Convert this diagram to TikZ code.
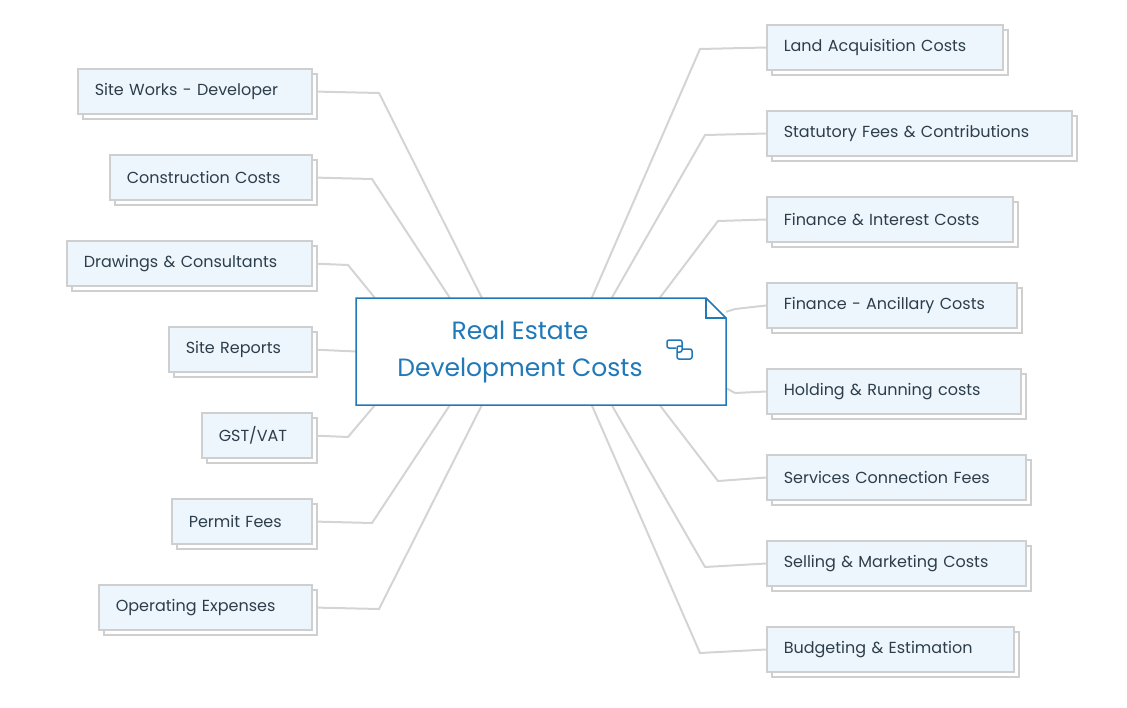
\documentclass[tikz,border=0pt]{standalone}
\usepackage{fontspec}
\setmainfont{Poppins}
\usetikzlibrary{shadows,backgrounds}
\definecolor{txt}{HTML}{2D3E4A}
\definecolor{leaffill}{HTML}{EEF6FD}
\definecolor{leafdraw}{HTML}{CFCFCF}
\definecolor{linec}{HTML}{D4D4D4}
\definecolor{mainblue}{HTML}{2179B8}
\tikzset{
  leaf/.style={draw=leafdraw, line width=1.5pt, fill=leaffill, anchor=west, minimum height=45pt, inner xsep=17pt, inner ysep=0pt, align=left, text=txt, font=\fontsize{16}{19}\selectfont,
    copy shadow={shadow xshift=5pt, shadow yshift=-5pt, fill=white, draw=leafdraw, line width=1.5pt}},
  conn/.style={draw=linec, line width=2pt},
}
\newcommand{\leaf}[5]{\node[leaf, text width=#4pt-34pt] (#1) at (#2,#3) {#5};}
\begin{document}
\begin{tikzpicture}[x=1pt,y=-1pt]
\useasboundingbox (0,0) rectangle (1127,707);
\node[minimum width=370pt, minimum height=107pt, inner sep=0pt] (c) at (541,351.5) {};
\fill[white] (356,298) -- (706,298) -- (726,318) -- (726,405) -- (356,405) -- cycle;
\draw[mainblue, line width=1.5pt] (356,298) -- (706,298) -- (726,318) -- (726,405) -- (356,405) -- cycle;
\draw[mainblue, line width=1.5pt] (706,298) -- (706,318) -- (726,318);
\node[text=mainblue, font=\fontsize{25}{37}\selectfont, align=center] (ct) at (520,352) {Real Estate\\Development Costs};
\draw[mainblue, line width=1.5pt, rounded corners=2pt] (676,348) -- (667,348) -- (667,340) -- (682,340) -- (682,352) -- (677,352);
\draw[mainblue, line width=1.5pt, rounded corners=2pt] (683,349) -- (692,349) -- (692,359) -- (677,359) -- (677,346) -- (682,346);

\leaf{l1}{77}{91.5}{234}{Site Works - Developer}
\leaf{l2}{109}{177.5}{202}{Construction Costs}
\leaf{l3}{66}{263.5}{245}{Drawings \& Consultants}
\leaf{l4}{168}{349.5}{143}{Site Reports}
\leaf{l5}{201}{435.5}{110}{GST/VAT}
\leaf{l6}{171}{521.5}{140}{Permit Fees}
\leaf{l7}{98}{607.5}{213}{Operating Expenses}

\leaf{r1}{766}{47.5}{236}{Land Acquisition Costs}
\leaf{r2}{766}{133.5}{305}{Statutory Fees \& Contributions}
\leaf{r3}{766}{219.5}{246}{Finance \& Interest Costs}
\leaf{r4}{766}{305.5}{250}{Finance - Ancillary Costs}
\leaf{r5}{766}{391.5}{254}{Holding \& Running costs}
\leaf{r6}{766}{477.5}{259}{Services Connection Fees}
\leaf{r7}{766}{563.5}{259}{Selling \& Marketing Costs}
\leaf{r8}{766}{649.5}{247}{Budgeting \& Estimation}

\begin{pgfonlayer}{background}
\draw[conn] (l1.east) -- (379,93) -- ([xshift=126pt]c.north west);
\draw[conn] (l2.east) -- (372,179) -- ([xshift=94pt]c.north west);
\draw[conn] (l3.east) -- (348,265) -- ([xshift=19pt]c.north west);
\draw[conn] (l4.east) -- (c.west);
\draw[conn] (l5.east) -- (348,437) -- ([xshift=19pt]c.south west);
\draw[conn] (l6.east) -- (372,523) -- ([xshift=94pt]c.south west);
\draw[conn] (l7.east) -- (379,609) -- ([xshift=126pt]c.south west);
\draw[conn] (r1.west) -- (700,49) -- ([xshift=236pt]c.north west);
\draw[conn] (r2.west) -- (705,135) -- ([xshift=256pt]c.north west);
\draw[conn] (r3.west) -- (718,221) -- ([xshift=304pt]c.north west);
\draw[conn] (r4.west) -- (735,309) -- ([yshift=-14pt]c.north east);
\draw[conn] (r5.west) -- (735,393) -- ([yshift=17pt]c.south east);
\draw[conn] (r6.west) -- (718,481) -- ([xshift=304pt]c.south west);
\draw[conn] (r7.west) -- (705,567) -- ([xshift=256pt]c.south west);
\draw[conn] (r8.west) -- (700,653) -- ([xshift=236pt]c.south west);
\end{pgfonlayer}
\end{tikzpicture}
\end{document}
